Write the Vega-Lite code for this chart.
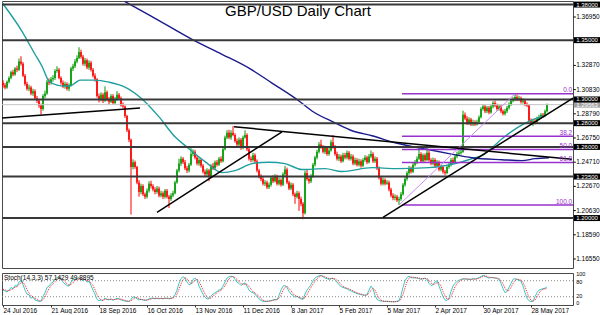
{
"$schema": "https://vega.github.io/schema/vega-lite/v6.json",
"padding": 0,
"background": "white",
"spacing": 2,
"config": {"view": {"stroke": "#4a4a4a", "strokeWidth": 1}, "font": "Liberation Sans"},
"resolve": {"scale": {"x": "independent", "y": "independent"}},
"datasets": {
"c": [
{"i":0,"o":1.3140,"h":1.3162,"l":1.3098,"c":1.3120,"k":45,"d":48},
{"i":1,"o":1.3120,"h":1.3138,"l":1.3085,"c":1.3100,"k":42,"d":46},
{"i":2,"o":1.3100,"h":1.3160,"l":1.3090,"c":1.3150,"k":38,"d":42},
{"i":3,"o":1.3150,"h":1.3195,"l":1.3135,"c":1.3180,"k":45,"d":42},
{"i":4,"o":1.3180,"h":1.3242,"l":1.3170,"c":1.3230,"k":55,"d":46},
{"i":5,"o":1.3230,"h":1.3250,"l":1.3195,"c":1.3210,"k":50,"d":50},
{"i":6,"o":1.3210,"h":1.3272,"l":1.3200,"c":1.3260,"k":62,"d":56},
{"i":7,"o":1.3260,"h":1.3285,"l":1.3230,"c":1.3250,"k":60,"d":57},
{"i":8,"o":1.3250,"h":1.3345,"l":1.3240,"c":1.3320,"k":75,"d":66},
{"i":9,"o":1.3320,"h":1.3364,"l":1.3285,"c":1.3300,"k":81,"d":72},
{"i":10,"o":1.3300,"h":1.3315,"l":1.3190,"c":1.3200,"k":65,"d":74},
{"i":11,"o":1.3200,"h":1.3215,"l":1.3115,"c":1.3130,"k":45,"d":64},
{"i":12,"o":1.3130,"h":1.3150,"l":1.3075,"c":1.3090,"k":30,"d":47},
{"i":13,"o":1.3090,"h":1.3125,"l":1.3070,"c":1.3100,"k":28,"d":34},
{"i":14,"o":1.3100,"h":1.3115,"l":1.3035,"c":1.3050,"k":15,"d":24},
{"i":15,"o":1.3050,"h":1.3090,"l":1.3030,"c":1.3070,"k":18,"d":20},
{"i":16,"o":1.3070,"h":1.3085,"l":1.2995,"c":1.3010,"k":8,"d":14},
{"i":17,"o":1.3010,"h":1.3030,"l":1.2970,"c":1.2990,"k":5,"d":10},
{"i":18,"o":1.2990,"h":1.3005,"l":1.2930,"c":1.2950,"k":3,"d":5},
{"i":19,"o":1.2950,"h":1.2965,"l":1.2875,"c":1.2920,"k":3,"d":4},
{"i":20,"o":1.2920,"h":1.3045,"l":1.2905,"c":1.3030,"k":20,"d":9},
{"i":21,"o":1.3030,"h":1.3075,"l":1.3010,"c":1.3050,"k":35,"d":19},
{"i":22,"o":1.3050,"h":1.3165,"l":1.3040,"c":1.3150,"k":55,"d":37},
{"i":23,"o":1.3150,"h":1.3178,"l":1.3120,"c":1.3140,"k":60,"d":50},
{"i":24,"o":1.3140,"h":1.3190,"l":1.3125,"c":1.3170,"k":70,"d":62},
{"i":25,"o":1.3170,"h":1.3205,"l":1.3150,"c":1.3180,"k":75,"d":68},
{"i":26,"o":1.3180,"h":1.3255,"l":1.3165,"c":1.3240,"k":85,"d":77},
{"i":27,"o":1.3240,"h":1.3280,"l":1.3225,"c":1.3250,"k":92,"d":84},
{"i":28,"o":1.3250,"h":1.3265,"l":1.3170,"c":1.3180,"k":95,"d":91},
{"i":29,"o":1.3180,"h":1.3195,"l":1.3125,"c":1.3140,"k":85,"d":91},
{"i":30,"o":1.3140,"h":1.3160,"l":1.3095,"c":1.3110,"k":75,"d":85},
{"i":31,"o":1.3110,"h":1.3150,"l":1.3090,"c":1.3130,"k":68,"d":76},
{"i":32,"o":1.3130,"h":1.3145,"l":1.3075,"c":1.3090,"k":62,"d":68},
{"i":33,"o":1.3090,"h":1.3135,"l":1.3070,"c":1.3120,"k":60,"d":63},
{"i":34,"o":1.3120,"h":1.3275,"l":1.3110,"c":1.3260,"k":75,"d":66},
{"i":35,"o":1.3260,"h":1.3300,"l":1.3240,"c":1.3280,"k":82,"d":72},
{"i":36,"o":1.3280,"h":1.3340,"l":1.3265,"c":1.3320,"k":86,"d":81},
{"i":37,"o":1.3320,"h":1.3372,"l":1.3305,"c":1.3350,"k":88,"d":85},
{"i":38,"o":1.3350,"h":1.3440,"l":1.3340,"c":1.3400,"k":92,"d":89},
{"i":39,"o":1.3400,"h":1.3420,"l":1.3345,"c":1.3360,"k":85,"d":88},
{"i":40,"o":1.3360,"h":1.3375,"l":1.3285,"c":1.3300,"k":80,"d":86},
{"i":41,"o":1.3300,"h":1.3350,"l":1.3280,"c":1.3330,"k":86,"d":84},
{"i":42,"o":1.3330,"h":1.3345,"l":1.3255,"c":1.3270,"k":75,"d":80},
{"i":43,"o":1.3270,"h":1.3330,"l":1.3250,"c":1.3310,"k":78,"d":80},
{"i":44,"o":1.3310,"h":1.3325,"l":1.3235,"c":1.3250,"k":62,"d":72},
{"i":45,"o":1.3250,"h":1.3265,"l":1.3185,"c":1.3200,"k":45,"d":62},
{"i":46,"o":1.3200,"h":1.3220,"l":1.3150,"c":1.3170,"k":30,"d":46},
{"i":47,"o":1.3170,"h":1.3180,"l":1.3015,"c":1.3030,"k":10,"d":28},
{"i":48,"o":1.3030,"h":1.3050,"l":1.2975,"c":1.3000,"k":5,"d":15},
{"i":49,"o":1.3000,"h":1.3060,"l":1.2985,"c":1.3040,"k":8,"d":8},
{"i":50,"o":1.3040,"h":1.3055,"l":1.2970,"c":1.2990,"k":6,"d":6},
{"i":51,"o":1.2990,"h":1.3110,"l":1.2980,"c":1.3060,"k":15,"d":10},
{"i":52,"o":1.3060,"h":1.3075,"l":1.2985,"c":1.3000,"k":10,"d":10},
{"i":53,"o":1.3000,"h":1.3020,"l":1.2960,"c":1.2980,"k":8,"d":11},
{"i":54,"o":1.2980,"h":1.3045,"l":1.2970,"c":1.3030,"k":12,"d":10},
{"i":55,"o":1.3030,"h":1.3045,"l":1.2955,"c":1.2970,"k":7,"d":9},
{"i":56,"o":1.2970,"h":1.3020,"l":1.2960,"c":1.3000,"k":10,"d":10},
{"i":57,"o":1.3000,"h":1.3070,"l":1.2990,"c":1.3040,"k":14,"d":10},
{"i":58,"o":1.3040,"h":1.3055,"l":1.2995,"c":1.3010,"k":12,"d":12},
{"i":59,"o":1.3010,"h":1.3025,"l":1.2940,"c":1.2950,"k":8,"d":11},
{"i":60,"o":1.2950,"h":1.2975,"l":1.2925,"c":1.2940,"k":6,"d":9},
{"i":61,"o":1.2940,"h":1.2950,"l":1.2845,"c":1.2860,"k":4,"d":6},
{"i":62,"o":1.2860,"h":1.2870,"l":1.2725,"c":1.2740,"k":3,"d":4},
{"i":63,"o":1.2740,"h":1.2755,"l":1.2640,"c":1.2660,"k":2,"d":3},
{"i":64,"o":1.2660,"h":1.2670,"l":1.2030,"c":1.2430,"k":10,"d":5},
{"i":65,"o":1.2430,"h":1.2495,"l":1.2410,"c":1.2470,"k":20,"d":11},
{"i":66,"o":1.2470,"h":1.2485,"l":1.2415,"c":1.2430,"k":18,"d":16},
{"i":67,"o":1.2430,"h":1.2440,"l":1.2285,"c":1.2300,"k":12,"d":17},
{"i":68,"o":1.2300,"h":1.2320,"l":1.2180,"c":1.2220,"k":8,"d":13},
{"i":69,"o":1.2220,"h":1.2290,"l":1.2200,"c":1.2270,"k":10,"d":10},
{"i":70,"o":1.2270,"h":1.2285,"l":1.2185,"c":1.2200,"k":8,"d":9},
{"i":71,"o":1.2200,"h":1.2215,"l":1.2160,"c":1.2180,"k":6,"d":8},
{"i":72,"o":1.2180,"h":1.2250,"l":1.2165,"c":1.2230,"k":8,"d":7},
{"i":73,"o":1.2230,"h":1.2310,"l":1.2215,"c":1.2290,"k":12,"d":9},
{"i":74,"o":1.2290,"h":1.2315,"l":1.2250,"c":1.2270,"k":14,"d":11},
{"i":75,"o":1.2270,"h":1.2285,"l":1.2225,"c":1.2240,"k":15,"d":14},
{"i":76,"o":1.2240,"h":1.2260,"l":1.2200,"c":1.2220,"k":12,"d":14},
{"i":77,"o":1.2220,"h":1.2270,"l":1.2205,"c":1.2250,"k":15,"d":14},
{"i":78,"o":1.2250,"h":1.2265,"l":1.2175,"c":1.2190,"k":12,"d":13},
{"i":79,"o":1.2190,"h":1.2230,"l":1.2175,"c":1.2210,"k":14,"d":14},
{"i":80,"o":1.2210,"h":1.2225,"l":1.2160,"c":1.2180,"k":12,"d":13},
{"i":81,"o":1.2180,"h":1.2245,"l":1.2165,"c":1.2230,"k":15,"d":14},
{"i":82,"o":1.2230,"h":1.2245,"l":1.2165,"c":1.2180,"k":14,"d":14},
{"i":83,"o":1.2180,"h":1.2195,"l":1.2085,"c":1.2160,"k":12,"d":14},
{"i":84,"o":1.2160,"h":1.2210,"l":1.2145,"c":1.2190,"k":14,"d":13},
{"i":85,"o":1.2190,"h":1.2230,"l":1.2175,"c":1.2210,"k":18,"d":15},
{"i":86,"o":1.2210,"h":1.2315,"l":1.2200,"c":1.2300,"k":28,"d":20},
{"i":87,"o":1.2300,"h":1.2415,"l":1.2290,"c":1.2400,"k":45,"d":30},
{"i":88,"o":1.2400,"h":1.2500,"l":1.2385,"c":1.2460,"k":70,"d":48},
{"i":89,"o":1.2460,"h":1.2520,"l":1.2440,"c":1.2500,"k":88,"d":68},
{"i":90,"o":1.2500,"h":1.2515,"l":1.2455,"c":1.2470,"k":95,"d":84},
{"i":91,"o":1.2470,"h":1.2490,"l":1.2405,"c":1.2420,"k":90,"d":91},
{"i":92,"o":1.2420,"h":1.2440,"l":1.2380,"c":1.2400,"k":75,"d":87},
{"i":93,"o":1.2400,"h":1.2465,"l":1.2385,"c":1.2450,"k":65,"d":77},
{"i":94,"o":1.2450,"h":1.2590,"l":1.2440,"c":1.2540,"k":68,"d":69},
{"i":95,"o":1.2540,"h":1.2580,"l":1.2520,"c":1.2560,"k":85,"d":73},
{"i":96,"o":1.2560,"h":1.2575,"l":1.2495,"c":1.2510,"k":90,"d":81},
{"i":97,"o":1.2510,"h":1.2525,"l":1.2445,"c":1.2460,"k":82,"d":86},
{"i":98,"o":1.2460,"h":1.2510,"l":1.2440,"c":1.2490,"k":60,"d":77},
{"i":99,"o":1.2490,"h":1.2505,"l":1.2425,"c":1.2440,"k":45,"d":62},
{"i":100,"o":1.2440,"h":1.2455,"l":1.2375,"c":1.2390,"k":30,"d":45},
{"i":101,"o":1.2390,"h":1.2410,"l":1.2350,"c":1.2370,"k":18,"d":31},
{"i":102,"o":1.2370,"h":1.2420,"l":1.2355,"c":1.2400,"k":12,"d":20},
{"i":103,"o":1.2400,"h":1.2415,"l":1.2310,"c":1.2350,"k":12,"d":14},
{"i":104,"o":1.2350,"h":1.2455,"l":1.2340,"c":1.2440,"k":22,"d":15},
{"i":105,"o":1.2440,"h":1.2465,"l":1.2405,"c":1.2420,"k":30,"d":21},
{"i":106,"o":1.2420,"h":1.2485,"l":1.2405,"c":1.2470,"k":35,"d":29},
{"i":107,"o":1.2470,"h":1.2490,"l":1.2435,"c":1.2450,"k":40,"d":35},
{"i":108,"o":1.2450,"h":1.2515,"l":1.2440,"c":1.2500,"k":45,"d":40},
{"i":109,"o":1.2500,"h":1.2520,"l":1.2465,"c":1.2480,"k":48,"d":44},
{"i":110,"o":1.2480,"h":1.2595,"l":1.2470,"c":1.2580,"k":60,"d":51},
{"i":111,"o":1.2580,"h":1.2695,"l":1.2570,"c":1.2680,"k":75,"d":61},
{"i":112,"o":1.2680,"h":1.2740,"l":1.2665,"c":1.2720,"k":90,"d":75},
{"i":113,"o":1.2720,"h":1.2745,"l":1.2665,"c":1.2680,"k":95,"d":87},
{"i":114,"o":1.2680,"h":1.2740,"l":1.2660,"c":1.2720,"k":97,"d":94},
{"i":115,"o":1.2720,"h":1.2775,"l":1.2690,"c":1.2700,"k":95,"d":96},
{"i":116,"o":1.2700,"h":1.2715,"l":1.2635,"c":1.2650,"k":85,"d":92},
{"i":117,"o":1.2650,"h":1.2670,"l":1.2600,"c":1.2620,"k":75,"d":85},
{"i":118,"o":1.2620,"h":1.2680,"l":1.2605,"c":1.2660,"k":70,"d":77},
{"i":119,"o":1.2660,"h":1.2675,"l":1.2575,"c":1.2590,"k":62,"d":69},
{"i":120,"o":1.2590,"h":1.2695,"l":1.2580,"c":1.2680,"k":68,"d":67},
{"i":121,"o":1.2680,"h":1.2740,"l":1.2670,"c":1.2700,"k":72,"d":67},
{"i":122,"o":1.2700,"h":1.2715,"l":1.2565,"c":1.2580,"k":60,"d":67},
{"i":123,"o":1.2580,"h":1.2595,"l":1.2485,"c":1.2500,"k":45,"d":59},
{"i":124,"o":1.2500,"h":1.2520,"l":1.2470,"c":1.2490,"k":38,"d":48},
{"i":125,"o":1.2490,"h":1.2550,"l":1.2475,"c":1.2530,"k":35,"d":39},
{"i":126,"o":1.2530,"h":1.2545,"l":1.2465,"c":1.2480,"k":30,"d":34},
{"i":127,"o":1.2480,"h":1.2495,"l":1.2385,"c":1.2400,"k":20,"d":28},
{"i":128,"o":1.2400,"h":1.2415,"l":1.2335,"c":1.2350,"k":12,"d":21},
{"i":129,"o":1.2350,"h":1.2370,"l":1.2310,"c":1.2330,"k":6,"d":13},
{"i":130,"o":1.2330,"h":1.2345,"l":1.2275,"c":1.2290,"k":3,"d":7},
{"i":131,"o":1.2290,"h":1.2320,"l":1.2270,"c":1.2300,"k":2,"d":4},
{"i":132,"o":1.2300,"h":1.2315,"l":1.2245,"c":1.2260,"k":3,"d":3},
{"i":133,"o":1.2260,"h":1.2300,"l":1.2245,"c":1.2280,"k":4,"d":3},
{"i":134,"o":1.2280,"h":1.2355,"l":1.2265,"c":1.2340,"k":5,"d":4},
{"i":135,"o":1.2340,"h":1.2360,"l":1.2295,"c":1.2310,"k":8,"d":6},
{"i":136,"o":1.2310,"h":1.2370,"l":1.2300,"c":1.2350,"k":10,"d":8},
{"i":137,"o":1.2350,"h":1.2365,"l":1.2275,"c":1.2290,"k":8,"d":9},
{"i":138,"o":1.2290,"h":1.2340,"l":1.2275,"c":1.2320,"k":25,"d":14},
{"i":139,"o":1.2320,"h":1.2335,"l":1.2265,"c":1.2280,"k":45,"d":26},
{"i":140,"o":1.2280,"h":1.2385,"l":1.2270,"c":1.2370,"k":60,"d":43},
{"i":141,"o":1.2370,"h":1.2440,"l":1.2355,"c":1.2410,"k":62,"d":56},
{"i":142,"o":1.2410,"h":1.2425,"l":1.2285,"c":1.2300,"k":55,"d":59},
{"i":143,"o":1.2300,"h":1.2315,"l":1.2235,"c":1.2250,"k":40,"d":52},
{"i":144,"o":1.2250,"h":1.2300,"l":1.2235,"c":1.2280,"k":30,"d":42},
{"i":145,"o":1.2280,"h":1.2295,"l":1.2185,"c":1.2200,"k":25,"d":32},
{"i":146,"o":1.2200,"h":1.2215,"l":1.2120,"c":1.2180,"k":18,"d":24},
{"i":147,"o":1.2180,"h":1.2230,"l":1.2165,"c":1.2210,"k":22,"d":22},
{"i":148,"o":1.2210,"h":1.2225,"l":1.2060,"c":1.2160,"k":15,"d":18},
{"i":149,"o":1.2160,"h":1.2180,"l":1.2100,"c":1.2120,"k":12,"d":16},
{"i":150,"o":1.2120,"h":1.2135,"l":1.1990,"c":1.2040,"k":10,"d":12},
{"i":151,"o":1.2040,"h":1.2400,"l":1.2030,"c":1.2380,"k":30,"d":17},
{"i":152,"o":1.2380,"h":1.2410,"l":1.2315,"c":1.2330,"k":45,"d":28},
{"i":153,"o":1.2330,"h":1.2355,"l":1.2290,"c":1.2310,"k":55,"d":43},
{"i":154,"o":1.2310,"h":1.2370,"l":1.2295,"c":1.2350,"k":65,"d":55},
{"i":155,"o":1.2350,"h":1.2465,"l":1.2340,"c":1.2450,"k":80,"d":67},
{"i":156,"o":1.2450,"h":1.2525,"l":1.2435,"c":1.2510,"k":90,"d":78},
{"i":157,"o":1.2510,"h":1.2575,"l":1.2495,"c":1.2560,"k":95,"d":88},
{"i":158,"o":1.2560,"h":1.2640,"l":1.2545,"c":1.2620,"k":98,"d":94},
{"i":159,"o":1.2620,"h":1.2660,"l":1.2585,"c":1.2600,"k":100,"d":98},
{"i":160,"o":1.2600,"h":1.2615,"l":1.2545,"c":1.2560,"k":95,"d":98},
{"i":161,"o":1.2560,"h":1.2610,"l":1.2540,"c":1.2590,"k":90,"d":95},
{"i":162,"o":1.2590,"h":1.2605,"l":1.2525,"c":1.2540,"k":88,"d":91},
{"i":163,"o":1.2540,"h":1.2590,"l":1.2525,"c":1.2570,"k":85,"d":88},
{"i":164,"o":1.2570,"h":1.2660,"l":1.2560,"c":1.2640,"k":88,"d":87},
{"i":165,"o":1.2640,"h":1.2700,"l":1.2585,"c":1.2600,"k":90,"d":88},
{"i":166,"o":1.2600,"h":1.2615,"l":1.2525,"c":1.2540,"k":82,"d":87},
{"i":167,"o":1.2540,"h":1.2560,"l":1.2485,"c":1.2500,"k":75,"d":82},
{"i":168,"o":1.2500,"h":1.2540,"l":1.2480,"c":1.2520,"k":65,"d":74},
{"i":169,"o":1.2520,"h":1.2535,"l":1.2465,"c":1.2480,"k":58,"d":66},
{"i":170,"o":1.2480,"h":1.2550,"l":1.2470,"c":1.2530,"k":55,"d":59},
{"i":171,"o":1.2530,"h":1.2550,"l":1.2495,"c":1.2510,"k":52,"d":55},
{"i":172,"o":1.2510,"h":1.2570,"l":1.2495,"c":1.2550,"k":50,"d":52},
{"i":173,"o":1.2550,"h":1.2565,"l":1.2485,"c":1.2500,"k":45,"d":49},
{"i":174,"o":1.2500,"h":1.2540,"l":1.2485,"c":1.2520,"k":42,"d":46},
{"i":175,"o":1.2520,"h":1.2535,"l":1.2445,"c":1.2460,"k":38,"d":42},
{"i":176,"o":1.2460,"h":1.2510,"l":1.2445,"c":1.2490,"k":35,"d":38},
{"i":177,"o":1.2490,"h":1.2505,"l":1.2435,"c":1.2450,"k":32,"d":35},
{"i":178,"o":1.2450,"h":1.2500,"l":1.2435,"c":1.2480,"k":30,"d":32},
{"i":179,"o":1.2480,"h":1.2495,"l":1.2425,"c":1.2440,"k":28,"d":30},
{"i":180,"o":1.2440,"h":1.2505,"l":1.2430,"c":1.2490,"k":26,"d":28},
{"i":181,"o":1.2490,"h":1.2530,"l":1.2475,"c":1.2510,"k":25,"d":26},
{"i":182,"o":1.2510,"h":1.2525,"l":1.2455,"c":1.2470,"k":28,"d":26},
{"i":183,"o":1.2470,"h":1.2540,"l":1.2460,"c":1.2520,"k":45,"d":33},
{"i":184,"o":1.2520,"h":1.2570,"l":1.2505,"c":1.2540,"k":60,"d":44},
{"i":185,"o":1.2540,"h":1.2555,"l":1.2465,"c":1.2480,"k":50,"d":52},
{"i":186,"o":1.2480,"h":1.2520,"l":1.2465,"c":1.2500,"k":25,"d":45},
{"i":187,"o":1.2500,"h":1.2515,"l":1.2405,"c":1.2420,"k":10,"d":28},
{"i":188,"o":1.2420,"h":1.2435,"l":1.2325,"c":1.2340,"k":6,"d":14},
{"i":189,"o":1.2340,"h":1.2355,"l":1.2275,"c":1.2290,"k":4,"d":7},
{"i":190,"o":1.2290,"h":1.2340,"l":1.2275,"c":1.2320,"k":3,"d":4},
{"i":191,"o":1.2320,"h":1.2335,"l":1.2275,"c":1.2290,"k":2,"d":3},
{"i":192,"o":1.2290,"h":1.2320,"l":1.2280,"c":1.2300,"k":3,"d":3},
{"i":193,"o":1.2300,"h":1.2315,"l":1.2225,"c":1.2240,"k":2,"d":2},
{"i":194,"o":1.2240,"h":1.2255,"l":1.2175,"c":1.2190,"k":1,"d":2},
{"i":195,"o":1.2190,"h":1.2210,"l":1.2150,"c":1.2170,"k":1,"d":1},
{"i":196,"o":1.2170,"h":1.2200,"l":1.2150,"c":1.2180,"k":2,"d":1},
{"i":197,"o":1.2180,"h":1.2195,"l":1.2135,"c":1.2150,"k":3,"d":2},
{"i":198,"o":1.2150,"h":1.2180,"l":1.2110,"c":1.2160,"k":5,"d":3},
{"i":199,"o":1.2160,"h":1.2220,"l":1.2145,"c":1.2200,"k":25,"d":11},
{"i":200,"o":1.2200,"h":1.2295,"l":1.2190,"c":1.2280,"k":55,"d":28},
{"i":201,"o":1.2280,"h":1.2345,"l":1.2265,"c":1.2330,"k":80,"d":53},
{"i":202,"o":1.2330,"h":1.2395,"l":1.2315,"c":1.2380,"k":92,"d":76},
{"i":203,"o":1.2380,"h":1.2440,"l":1.2365,"c":1.2420,"k":97,"d":90},
{"i":204,"o":1.2420,"h":1.2435,"l":1.2375,"c":1.2390,"k":92,"d":94},
{"i":205,"o":1.2390,"h":1.2465,"l":1.2380,"c":1.2450,"k":90,"d":93},
{"i":206,"o":1.2450,"h":1.2490,"l":1.2435,"c":1.2470,"k":92,"d":91},
{"i":207,"o":1.2470,"h":1.2520,"l":1.2455,"c":1.2500,"k":90,"d":91},
{"i":208,"o":1.2500,"h":1.2590,"l":1.2490,"c":1.2540,"k":88,"d":90},
{"i":209,"o":1.2540,"h":1.2555,"l":1.2465,"c":1.2480,"k":85,"d":88},
{"i":210,"o":1.2480,"h":1.2545,"l":1.2470,"c":1.2530,"k":88,"d":87},
{"i":211,"o":1.2530,"h":1.2545,"l":1.2475,"c":1.2490,"k":90,"d":88},
{"i":212,"o":1.2490,"h":1.2600,"l":1.2480,"c":1.2550,"k":85,"d":88},
{"i":213,"o":1.2550,"h":1.2565,"l":1.2475,"c":1.2490,"k":70,"d":82},
{"i":214,"o":1.2490,"h":1.2505,"l":1.2445,"c":1.2460,"k":62,"d":72},
{"i":215,"o":1.2460,"h":1.2510,"l":1.2445,"c":1.2490,"k":65,"d":66},
{"i":216,"o":1.2490,"h":1.2505,"l":1.2425,"c":1.2440,"k":75,"d":67},
{"i":217,"o":1.2440,"h":1.2490,"l":1.2430,"c":1.2470,"k":80,"d":73},
{"i":218,"o":1.2470,"h":1.2485,"l":1.2395,"c":1.2410,"k":60,"d":72},
{"i":219,"o":1.2410,"h":1.2450,"l":1.2395,"c":1.2430,"k":40,"d":60},
{"i":220,"o":1.2430,"h":1.2445,"l":1.2375,"c":1.2390,"k":20,"d":40},
{"i":221,"o":1.2390,"h":1.2405,"l":1.2360,"c":1.2380,"k":8,"d":23},
{"i":222,"o":1.2380,"h":1.2445,"l":1.2370,"c":1.2430,"k":6,"d":11},
{"i":223,"o":1.2430,"h":1.2470,"l":1.2415,"c":1.2450,"k":15,"d":10},
{"i":224,"o":1.2450,"h":1.2505,"l":1.2435,"c":1.2490,"k":40,"d":20},
{"i":225,"o":1.2490,"h":1.2510,"l":1.2455,"c":1.2470,"k":60,"d":38},
{"i":226,"o":1.2470,"h":1.2535,"l":1.2460,"c":1.2520,"k":70,"d":57},
{"i":227,"o":1.2520,"h":1.2560,"l":1.2505,"c":1.2540,"k":78,"d":69},
{"i":228,"o":1.2540,"h":1.2570,"l":1.2525,"c":1.2550,"k":82,"d":77},
{"i":229,"o":1.2550,"h":1.2580,"l":1.2535,"c":1.2560,"k":85,"d":82},
{"i":230,"o":1.2560,"h":1.2905,"l":1.2550,"c":1.2870,"k":88,"d":85},
{"i":231,"o":1.2870,"h":1.2890,"l":1.2825,"c":1.2840,"k":87,"d":87},
{"i":232,"o":1.2840,"h":1.2860,"l":1.2785,"c":1.2800,"k":85,"d":87},
{"i":233,"o":1.2800,"h":1.2850,"l":1.2785,"c":1.2830,"k":86,"d":86},
{"i":234,"o":1.2830,"h":1.2845,"l":1.2775,"c":1.2790,"k":85,"d":85},
{"i":235,"o":1.2790,"h":1.2830,"l":1.2775,"c":1.2810,"k":88,"d":86},
{"i":236,"o":1.2810,"h":1.2825,"l":1.2775,"c":1.2790,"k":86,"d":86},
{"i":237,"o":1.2790,"h":1.2830,"l":1.2780,"c":1.2810,"k":88,"d":87},
{"i":238,"o":1.2810,"h":1.2865,"l":1.2800,"c":1.2850,"k":92,"d":89},
{"i":239,"o":1.2850,"h":1.2935,"l":1.2840,"c":1.2920,"k":96,"d":92},
{"i":240,"o":1.2920,"h":1.2960,"l":1.2905,"c":1.2940,"k":100,"d":96},
{"i":241,"o":1.2940,"h":1.2955,"l":1.2885,"c":1.2900,"k":97,"d":98},
{"i":242,"o":1.2900,"h":1.2945,"l":1.2885,"c":1.2930,"k":93,"d":97},
{"i":243,"o":1.2930,"h":1.2945,"l":1.2875,"c":1.2890,"k":90,"d":93},
{"i":244,"o":1.2890,"h":1.2955,"l":1.2880,"c":1.2940,"k":92,"d":92},
{"i":245,"o":1.2940,"h":1.2985,"l":1.2925,"c":1.2970,"k":92,"d":91},
{"i":246,"o":1.2970,"h":1.2990,"l":1.2935,"c":1.2950,"k":90,"d":91},
{"i":247,"o":1.2950,"h":1.2965,"l":1.2905,"c":1.2920,"k":88,"d":90},
{"i":248,"o":1.2920,"h":1.2960,"l":1.2905,"c":1.2940,"k":85,"d":88},
{"i":249,"o":1.2940,"h":1.2955,"l":1.2885,"c":1.2900,"k":70,"d":81},
{"i":250,"o":1.2900,"h":1.2915,"l":1.2865,"c":1.2880,"k":50,"d":68},
{"i":251,"o":1.2880,"h":1.2920,"l":1.2865,"c":1.2900,"k":35,"d":52},
{"i":252,"o":1.2900,"h":1.2945,"l":1.2885,"c":1.2930,"k":40,"d":42},
{"i":253,"o":1.2930,"h":1.2975,"l":1.2915,"c":1.2960,"k":55,"d":43},
{"i":254,"o":1.2960,"h":1.3005,"l":1.2945,"c":1.2990,"k":70,"d":55},
{"i":255,"o":1.2990,"h":1.3020,"l":1.2975,"c":1.3000,"k":85,"d":70},
{"i":256,"o":1.3000,"h":1.3048,"l":1.2985,"c":1.3020,"k":88,"d":81},
{"i":257,"o":1.3020,"h":1.3040,"l":1.2985,"c":1.3000,"k":85,"d":86},
{"i":258,"o":1.3000,"h":1.3030,"l":1.2985,"c":1.3010,"k":82,"d":85},
{"i":259,"o":1.3010,"h":1.3025,"l":1.2965,"c":1.2980,"k":78,"d":82},
{"i":260,"o":1.2980,"h":1.3010,"l":1.2965,"c":1.2990,"k":60,"d":73},
{"i":261,"o":1.2990,"h":1.3005,"l":1.2945,"c":1.2960,"k":35,"d":58},
{"i":262,"o":1.2960,"h":1.2975,"l":1.2935,"c":1.2950,"k":15,"d":37},
{"i":263,"o":1.2950,"h":1.2960,"l":1.2805,"c":1.2820,"k":5,"d":18},
{"i":264,"o":1.2820,"h":1.2840,"l":1.2785,"c":1.2800,"k":2,"d":7},
{"i":265,"o":1.2800,"h":1.2835,"l":1.2775,"c":1.2820,"k":3,"d":3},
{"i":266,"o":1.2820,"h":1.2840,"l":1.2790,"c":1.2810,"k":20,"d":8},
{"i":267,"o":1.2810,"h":1.2855,"l":1.2795,"c":1.2840,"k":35,"d":19},
{"i":268,"o":1.2840,"h":1.2870,"l":1.2825,"c":1.2850,"k":45,"d":33},
{"i":269,"o":1.2850,"h":1.2885,"l":1.2835,"c":1.2870,"k":48,"d":43},
{"i":270,"o":1.2870,"h":1.2885,"l":1.2845,"c":1.2860,"k":50,"d":48},
{"i":271,"o":1.2860,"h":1.2915,"l":1.2850,"c":1.2900,"k":52,"d":50},
{"i":272,"o":1.2900,"h":1.2965,"l":1.2890,"c":1.2956,"k":57.14,"d":49.89}
],
"ma50": [
{"i":-0.5,"p":1.3817},{"i":9.5,"p":1.3574},{"i":16,"p":1.3381},{"i":19.5,"p":1.3280},{"i":23,"p":1.3155},{"i":27,"p":1.3121},{"i":31,"p":1.3113},{"i":33.5,"p":1.3113},{"i":36,"p":1.3138},{"i":38.5,"p":1.3163},{"i":46,"p":1.3163},{"i":53,"p":1.3146},{"i":61,"p":1.3104},{"i":69.5,"p":1.3004},{"i":78,"p":1.2853},{"i":86,"p":1.2685},{"i":93,"p":1.2585},{"i":101,"p":1.2476},{"i":109.5,"p":1.2383},{"i":116,"p":1.2400},{"i":124.5,"p":1.2459},{"i":133,"p":1.2471},{"i":141,"p":1.2459},{"i":149.5,"p":1.2409},{"i":161,"p":1.2417},{"i":169.5,"p":1.2392},{"i":184.5,"p":1.2425},{"i":196,"p":1.2417},{"i":213,"p":1.2425},{"i":228,"p":1.2467},{"i":234.5,"p":1.2501},{"i":239.5,"p":1.2526},{"i":244.5,"p":1.2593},{"i":249.5,"p":1.2668},{"i":257,"p":1.2761},{"i":264.5,"p":1.2828},{"i":272,"p":1.2870}
],
"ma200": [
{"i":61,"p":1.3825},{"i":74.5,"p":1.3699},{"i":94.5,"p":1.3507},{"i":109.5,"p":1.3381},{"i":123,"p":1.3264},{"i":134.5,"p":1.3138},{"i":148,"p":1.2987},{"i":154.5,"p":1.2903},{"i":166,"p":1.2803},{"i":174.5,"p":1.2736},{"i":184.5,"p":1.2694},{"i":196,"p":1.2635},{"i":213,"p":1.2576},{"i":223,"p":1.2543},{"i":234.5,"p":1.2509},{"i":249.5,"p":1.2492},{"i":259.5,"p":1.2484},{"i":266,"p":1.2501},{"i":273,"p":1.2509}
],
"lv": [{"p":1.38},{"p":1.35},{"p":1.30},{"p":1.28},{"p":1.26},{"p":1.235},{"p":1.20}],
"tr": [
{"a":-0.5,"pa":1.2844,"b":68.5,"pb":1.2928},
{"a":77,"pa":1.2048,"b":139.5,"pb":1.2727},
{"a":115.5,"pa":1.2770,"b":284.5,"pb":1.2495},
{"a":190,"pa":1.2006,"b":285,"pb":1.3012}
],
"fib": [{"t":"0.0","p":1.3048},{"t":"38.2","p":1.2690},{"t":"50.0","p":1.2579},{"t":"61.8","p":1.2468},{"t":"100.0","p":1.2110}],
"yl": [{"t":"1.36950","p":1.3695},{"t":"1.32870","p":1.3287},{"t":"1.30830","p":1.3083},{"t":"1.28790","p":1.2879},{"t":"1.26750","p":1.2675},{"t":"1.24710","p":1.2471},{"t":"1.22670","p":1.2267},{"t":"1.20630","p":1.2063},{"t":"1.18590","p":1.1859},{"t":"1.16550","p":1.1655}],
"yb": [{"t":"1.29563","p":1.29563},{"t":"1.38000","p":1.38},{"t":"1.35000","p":1.35},{"t":"1.30000","p":1.30},{"t":"1.28000","p":1.28},{"t":"1.26000","p":1.26},{"t":"1.23500","p":1.235},{"t":"1.20000","p":1.20}],
"sl": [{"t":"100","v":100},{"t":"80","v":80},{"t":"20","v":20},{"t":"0","v":0}]
},
"vconcat": [
{
"width": 571, "height": 267,
"layer": [
{"data": {"name": "c"}, "mark": {"type": "rule", "strokeWidth": 1},
 "encoding": {
  "x": {"field": "i", "type": "quantitative", "scale": {"domain": [-0.5, 285], "nice": false, "zero": false}, "axis": null},
  "y": {"field": "l", "type": "quantitative", "scale": {"domain": [1.1579, 1.3830], "nice": false, "zero": false}, "axis": null},
  "y2": {"field": "h"},
  "color": {"condition": {"test": "datum.c >= datum.o", "value": "#009a00"}, "value": "#ff0000"}}},
{"data": {"name": "c"}, "mark": {"type": "rule", "strokeWidth": 1.6},
 "encoding": {
  "x": {"field": "i", "type": "quantitative", "axis": null},
  "y": {"field": "o", "type": "quantitative", "axis": null},
  "y2": {"field": "c"},
  "color": {"condition": {"test": "datum.c >= datum.o", "value": "#009a00"}, "value": "#ff0000"}}},
{"data": {"name": "ma50"}, "mark": {"type": "line", "clip": true, "interpolate": "monotone", "color": "#1f9e9e", "strokeWidth": 1.4},
 "encoding": {"x": {"field": "i", "type": "quantitative", "axis": null}, "y": {"field": "p", "type": "quantitative", "axis": null}}},
{"data": {"name": "ma200"}, "mark": {"type": "line", "clip": true, "interpolate": "monotone", "color": "#1a1a8c", "strokeWidth": 1.4},
 "encoding": {"x": {"field": "i", "type": "quantitative", "axis": null}, "y": {"field": "p", "type": "quantitative", "axis": null}}},
{"data": {"name": "lv"}, "mark": {"type": "rule", "color": "#383838", "strokeWidth": 2},
 "encoding": {"y": {"field": "p", "type": "quantitative", "axis": null}}},
{"data": {"values": [{}]}, "mark": {"type": "rule", "color": "#c4c4c4", "strokeWidth": 1},
 "encoding": {"y": {"datum": 1.29563, "type": "quantitative", "axis": null}}},
{"data": {"name": "fib"}, "mark": {"type": "rule", "color": "#9932cc", "strokeWidth": 1.5},
 "encoding": {"x": {"datum": 199.5, "type": "quantitative", "axis": null}, "x2": {"datum": 285}, "y": {"field": "p", "type": "quantitative", "axis": null}}},
{"data": {"values": [{}]}, "mark": {"type": "rule", "color": "#c58cf5", "strokeWidth": 1},
 "encoding": {"x": {"datum": 198, "type": "quantitative", "axis": null}, "x2": {"datum": 256}, "y": {"datum": 1.2110, "type": "quantitative", "axis": null}, "y2": {"datum": 1.3048}}},
{"data": {"name": "tr"}, "mark": {"type": "rule", "color": "black", "strokeWidth": 1.5},
 "encoding": {"x": {"field": "a", "type": "quantitative", "axis": null}, "x2": {"field": "b"}, "y": {"field": "pa", "type": "quantitative", "axis": null}, "y2": {"field": "pb"}}},
{"data": {"name": "fib"}, "mark": {"type": "text", "color": "#9932cc", "fontSize": 6.5, "align": "right", "baseline": "bottom", "dy": -0.5},
 "encoding": {"x": {"datum": 284.6, "type": "quantitative", "axis": null}, "y": {"field": "p", "type": "quantitative", "axis": null}, "text": {"field": "t"}}},
{"data": {"values": [{}]}, "mark": {"type": "text", "text": "GBP/USD Daily Chart", "fontSize": 15, "align": "center", "baseline": "alphabetic", "color": "black"},
 "encoding": {"x": {"datum": 147.5, "type": "quantitative", "axis": null}, "y": {"datum": 1.3700, "type": "quantitative", "axis": null}}},
{"data": {"name": "yl"}, "mark": {"type": "rule", "color": "black", "strokeWidth": 1},
 "encoding": {"x": {"datum": 285.25, "type": "quantitative", "axis": null}, "x2": {"datum": 286.4}, "y": {"field": "p", "type": "quantitative", "axis": null}}},
{"data": {"name": "yl"}, "mark": {"type": "text", "color": "black", "fontSize": 6.5, "align": "left", "baseline": "middle"},
 "encoding": {"x": {"datum": 286.6, "type": "quantitative", "axis": null}, "y": {"field": "p", "type": "quantitative", "axis": null}, "text": {"field": "t"}}},
{"data": {"name": "yb"}, "mark": {"type": "rect", "yOffset": -3, "y2Offset": 3},
 "encoding": {"x": {"datum": 285.4, "type": "quantitative", "axis": null}, "x2": {"datum": 299.5}, "y": {"field": "p", "type": "quantitative", "axis": null}, "y2": {"field": "p"},
  "color": {"condition": {"test": "datum.t == '1.29563'", "value": "#a0a0a0"}, "value": "black"}}},
{"data": {"name": "yb"}, "mark": {"type": "text", "color": "white", "fontSize": 6, "align": "left", "baseline": "middle"},
 "encoding": {"x": {"datum": 286.6, "type": "quantitative", "axis": null}, "y": {"field": "p", "type": "quantitative", "axis": null}, "text": {"field": "t"}}}
]
},
{
"width": 571, "height": 32,
"layer": [
{"data": {"values": [{"v": 20}, {"v": 80}]}, "mark": {"type": "rule", "color": "#8a8a8a", "strokeWidth": 1, "strokeDash": [1, 2]},
 "encoding": {"y": {"field": "v", "type": "quantitative", "scale": {"domain": [-11, 109], "nice": false, "zero": false}, "axis": null}}},
{"data": {"name": "c"}, "mark": {"type": "line", "color": "#3cc8c8", "strokeWidth": 1},
 "encoding": {
  "x": {"field": "i", "type": "quantitative", "scale": {"domain": [-0.5, 285], "nice": false, "zero": false},
   "axis": {"values": [0, 24, 48, 72, 96, 120, 144, 168, 192, 216, 240, 264], "labelExpr": "['24 Jul 2016','21 Aug 2016','18 Sep 2016','16 Oct 2016','13 Nov 2016','11 Dec 2016','8 Jan 2017','5 Feb 2017','5 Mar 2017','2 Apr 2017','30 Apr 2017','28 May 2017'][round(datum.value/24)]", "labelAlign": "left", "labelFontSize": 6.5, "labelFont": "Liberation Sans", "labelColor": "black", "tickSize": 2, "tickColor": "#333333", "domain": false, "grid": false, "title": null, "labelPadding": 0, "labelFlush": false, "labelOverlap": false, "labelBound": false}},
  "y": {"field": "k", "type": "quantitative", "axis": null}}},
{"data": {"name": "c"}, "mark": {"type": "line", "color": "#ff2020", "strokeWidth": 1, "strokeDash": [1, 1]},
 "encoding": {"x": {"field": "i", "type": "quantitative"}, "y": {"field": "d", "type": "quantitative", "axis": null}}},
{"data": {"values": [{}]}, "mark": {"type": "text", "text": "Stoch(14,3,3) 57.1429 49.8895", "fontSize": 6.5, "align": "left", "baseline": "alphabetic", "color": "black"},
 "encoding": {"x": {"datum": 0.5, "type": "quantitative"}, "y": {"datum": 82, "type": "quantitative", "axis": null}}},
{"data": {"name": "sl"}, "transform": [{"filter": "datum.v == 100 || datum.v == 20"}], "mark": {"type": "text", "fontSize": 5.5, "align": "left", "baseline": "middle", "color": "black", "yOffset": -1},
 "encoding": {"x": {"datum": 286.6, "type": "quantitative"}, "y": {"field": "v", "type": "quantitative", "axis": null}, "text": {"field": "t"}}},
{"data": {"name": "sl"}, "transform": [{"filter": "datum.v == 80 || datum.v == 0"}], "mark": {"type": "text", "fontSize": 5.5, "align": "left", "baseline": "middle", "color": "black", "yOffset": 1},
 "encoding": {"x": {"datum": 286.6, "type": "quantitative"}, "y": {"field": "v", "type": "quantitative", "axis": null}, "text": {"field": "t"}}}
]
}
]
}
